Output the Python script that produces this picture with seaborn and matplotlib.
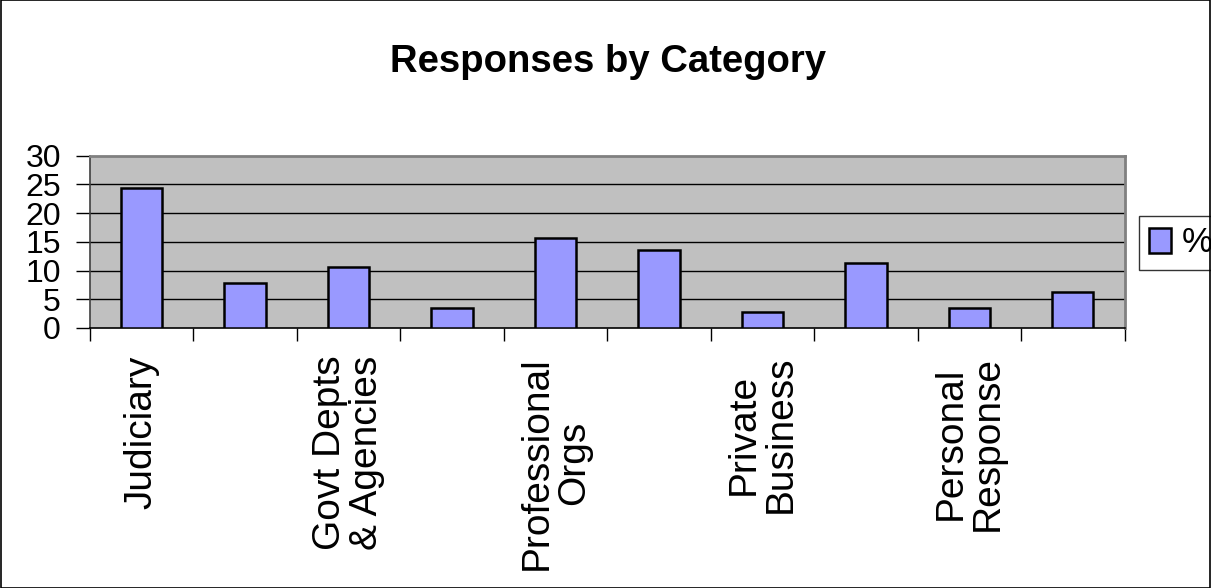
import pandas as pd
import matplotlib
matplotlib.use("Agg")
import matplotlib.pyplot as plt
from matplotlib.patches import Rectangle
import seaborn as sns

# category labels (only every other one is printed on the axis)
categories = ["Judiciary", "", "Govt Depts\n& Agencies", "", "Professional\nOrgs",
              "", "Private\nBusiness", "", "Personal\nResponse", ""]
percent = [24.3, 7.8, 10.6, 3.5, 15.7, 13.6, 2.8, 11.3, 3.5, 6.3]
y_ticks = [0, 5, 10, 15, 20, 25, 30]

df = pd.DataFrame({"pos": range(len(percent)), "pct": percent})

sns.set_style("white")
plt.rcParams["font.family"] = ["Liberation Sans", "DejaVu Sans"]
plt.rcParams["text.color"] = "black"
plt.rcParams["xtick.color"] = "black"
plt.rcParams["ytick.color"] = "black"

fig = plt.figure(figsize=(12.11, 5.88), dpi=100)
ax = fig.add_axes([0.0743, 0.4422, 0.8543, 0.2930])
ax.set_facecolor("#C0C0C0")

sns.barplot(data=df, x="pos", y="pct", color="#9999FF", width=0.4,
            edgecolor="black", linewidth=1.8, saturation=1, label="%", ax=ax, zorder=3)

ax.set_ylim(0, 30)
ax.set_xlim(-0.5, len(percent) - 0.5)
ax.set_yticks(y_ticks)
ax.set_yticklabels([str(v) for v in y_ticks], fontsize=23)
ax.tick_params(axis="y", length=10, width=1, pad=11, direction="out", left=True)
for v in y_ticks[1:-1]:
    ax.axhline(v, color="black", linewidth=1, zorder=1)

# category labels at centers, tick marks at boundaries
ax.set_xticks(range(len(categories)))
ax.set_xticklabels(categories, rotation=90, fontsize=28, va="top", ha="center",
                   multialignment="center", linespacing=1.05)
ax.tick_params(axis="x", length=0, pad=20)
ax.set_xticks([i - 0.5 for i in range(len(categories) + 1)], minor=True)
ax.tick_params(axis="x", which="minor", length=9, width=1, bottom=True)
ax.set_xlabel("")
ax.set_ylabel("")

for side in ["top", "right"]:
    ax.spines[side].set_color("#808080")
    ax.spines[side].set_linewidth(2)
ax.spines["left"].set_color("#404040")
ax.spines["bottom"].set_color("black")
ax.spines["left"].set_linewidth(1.2)
ax.spines["bottom"].set_linewidth(1.2)

fig.suptitle("Responses by Category", x=0.502, y=0.925, fontsize=27.5, fontweight="bold")

leg = ax.legend(loc="upper left", bbox_to_anchor=(1139 / 1211, 1 - 216 / 588),
                bbox_transform=fig.transFigure, fontsize=25, frameon=True, fancybox=False,
                borderaxespad=0, handlelength=0.62, handleheight=0.72, handletextpad=0.3,
                borderpad=0.3)
leg.get_frame().set_edgecolor("black")
leg.get_frame().set_linewidth(1)

fig.patches.append(Rectangle((0.0008, 0.0008), 0.9984, 0.9984, transform=fig.transFigure,
                             fill=False, edgecolor="black", linewidth=1.2))

fig.savefig("out.png", dpi=100)
